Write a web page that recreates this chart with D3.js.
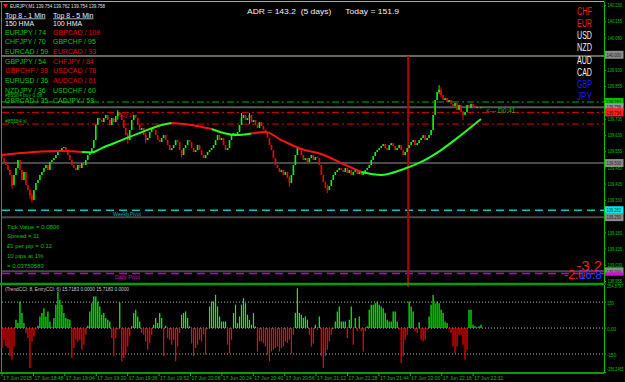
<!DOCTYPE html>
<html><head><meta charset="utf-8">
<script src="https://cdn.jsdelivr.net/npm/d3@7"></script>
<style>body{margin:0;background:#000}svg{display:block}text{font-family:"Liberation Sans",Arial,sans-serif}</style>
</head><body><svg id="c" width="625" height="382"></svg>
<script>
// ---------------- DATA ----------------
const symbolHeader = "EURJPY,M1  139.754 139.762 139.754 139.758";
const firstOpen = 139.530;
const closes = [
139.523,139.505,139.491,139.468,139.445,
139.398,
139.445,139.477,139.514,139.468,
139.422,139.459,139.398,139.375,139.352,
139.329,139.375,
139.408,139.422,139.445,139.459,139.477,139.491,139.468,139.505,139.514,139.523,139.537,139.551,
139.560,139.569,139.574,139.560,139.537,139.514,139.491,139.477,
139.468,139.491,139.477,139.500,139.491,
139.514,139.537,139.551,139.569,139.606,
139.676,139.708,139.699,
139.689,139.708,139.722,139.699,139.676,139.708,139.689,139.717,139.736,
139.722,139.699,139.662,139.629,139.606,139.653,139.699,139.722,
139.708,139.676,139.653,139.662,139.629,139.606,139.616,139.643,
139.662,139.653,139.629,139.606,139.597,139.616,139.629,139.606,
139.583,139.560,139.569,139.583,139.606,139.597,139.560,139.537,139.569,
139.583,139.606,139.597,139.569,139.551,139.560,139.583,
139.560,139.537,139.523,139.537,139.551,139.560,139.569,
139.583,139.606,139.629,139.606,139.616,139.583,139.560,139.569,139.606,139.629,
139.639,139.629,139.643,139.676,139.708,
139.722,139.699,139.708,139.722,139.689,
139.699,139.676,139.662,139.689,139.671,139.653,139.643,
139.616,139.583,139.560,139.523,139.491,139.477,139.459,
139.468,139.445,139.459,139.431,139.408,139.445,
139.491,139.537,139.569,139.560,
139.537,139.514,139.523,139.505,139.523,139.537,139.514,139.528,139.523,
139.491,139.445,139.412,139.385,139.375,139.394,
139.422,139.445,139.459,139.468,139.477,
139.468,139.459,139.477,139.454,139.468,139.445,139.459,139.468,139.449,139.459,139.445,139.459,139.468,
139.477,139.491,139.514,139.532,139.551,139.560,139.569,
139.579,139.588,139.569,139.560,139.583,139.592,139.579,139.560,139.569,139.583,
139.560,139.537,139.551,139.569,
139.583,139.597,139.606,139.583,139.592,139.606,139.616,139.629,139.606,139.616,139.629,139.653,
139.722,139.791,139.828,
139.837,139.814,139.791,139.800,139.782,139.791,139.773,
139.763,139.777,139.745,139.768,139.736,139.722,139.736,
139.768,139.754,139.773,139.763,139.754,139.759,139.754,139.758];

// notable wick extremes: bar index, high, low
const wickBars  = [5, 14, 15, 58, 63, 72, 90, 120, 124, 144, 163, 219, 220, 231];
const wickHighs = [139.420,139.380,139.360,139.745,139.640,139.640,139.560,139.731,139.731,139.440,139.400,139.860,139.850,139.740];
const wickLows  = [139.380,139.335,139.318,139.700,139.590,139.590,139.525,139.700,139.680,139.390,139.362,139.820,139.805,139.699];

const cci = [
-115,-67,-106,-115,-163,-183,-106,48,29,154,87,29,-29,-58,-231,-77,-48,-10,13,67,
87,115,67,96,38,5,58,135,211,163,135,87,58,52,48,-173,-115,-67,-77,-67,
-125,-96,-38,13,96,144,183,183,154,125,77,87,58,48,38,-58,-163,-58,-10,148,
-192,-173,-144,-106,-48,10,87,106,67,38,-29,-38,-77,-125,-87,-38,19,58,29,87,
58,-163,13,-58,-67,-96,-67,-192,-106,-29,77,87,96,58,10,-87,-163,-115,-96,-67,
-77,-38,-154,-5,125,154,154,192,125,67,38,38,38,-96,-144,-67,87,135,29,67,
135,173,144,77,48,19,87,10,-135,-77,-77,-87,-106,-154,-192,-135,-125,-115,-106,-135,
-115,-106,-77,-87,-67,-144,-38,87,231,87,77,58,67,48,-38,-106,-87,19,-10,67,
-163,-231,-163,-125,-77,-38,-5,38,96,125,38,38,38,-58,48,125,-96,58,-19,67,
-19,-135,-19,10,106,135,135,144,154,135,125,115,87,48,38,38,96,96,38,-10,
-202,-163,-67,-38,154,125,96,-19,-29,33,-67,-77,-67,-10,67,135,192,144,154,144,
106,87,38,29,-5,-29,-106,-144,-106,-38,-38,-96,-183,-125,106,106,19,10,4,10,19];

// moving average (HMA) read at key bars, with its colour state
const maIdx = [0,10,20,30,40,45,50,60,70,80,85,95,105,117,125,132,140,150,160,170,180,190,200,210,220,230,240];
const maVal = [139.537,139.546,139.553,139.556,139.551,139.549,139.569,139.606,139.643,139.676,139.685,139.676,139.657,139.629,139.636,139.643,139.606,139.565,139.542,139.500,139.459,139.445,139.468,139.505,139.560,139.629,139.703];
const maUp  = [0,0,0,0,0,1,1,1,1,1,1,0,0,1,1,0,0,0,0,0,0,1,1,1,1,1,1];

const priceTicks = [140.230,140.155,140.080,140.005,139.930,139.855,139.780,139.705,139.630,139.555,139.480,139.405,139.330,139.255,139.180,139.105,139.030,138.955];
const cciTicks = [254.8797,150,0,-150,-256.2455];
const cciTickLabels = ["254.8797","150","0.00","-150","-256.2455"];
const timeMinutes = [0,16,32,48,64,80,96,112,128,144,160,176,192,208,224,240];
const timeLabels = ["17 Jun 2015","17 Jun 18:48","17 Jun 19:04","17 Jun 19:20","17 Jun 19:36","17 Jun 19:52","17 Jun 20:08","17 Jun 20:24","17 Jun 20:40","17 Jun 20:56","17 Jun 21:12","17 Jun 21:28","17 Jun 21:44","17 Jun 22:00","17 Jun 22:16","17 Jun 22:32"];

const leftPairs = ["EURJPY","CHFJPY","EURCAD","GBPJPY","GBPCHF","EURUSD","NZDJPY","GBPCAD"];
const leftVals  = [74,70,59,54,38,36,36,35];
const leftUp    = [1,1,1,1,0,1,1,1];
const rightPairs = ["GBPCAD","GBPCHF","EURCAD","CHFJPY","USDCAD","AUDCAD","USDCHF","CADJPY"];
const rightVals  = [109,95,93,84,78,61,60,58];
const rightUp    = [0,1,0,0,0,0,1,1];
const currencies = ["CHF","EUR","USD","NZD","AUD","CAD","GBP","JPY"];
const currencyState = ["s","s","n","n","n","n","w","w"];
const infoLines = ["Tick Value = 0.0806","Spread = 11","£1 per pip = 0.12","10 pips at 1%","= 0.03750583"];

const adr = 143.2, adrDays = 5, today = 151.9;
const bidPrice = 139.758;
const weeklyPivot = 139.282, dailyPivot = 138.990;
const grayLevels = [139.994, 139.500, 139.250, 139.000];
const greenLevel = 139.782;
const redLevels = [139.734, 139.680];
const separatorIdx = 203.5;
const bigVal = "-3.2", smallValA = "-2.0", smallValB = "16.8";
const cciHeader = "(TrendCCI: 8, EntryCCI: 6) 15.7183 0.0000 15.7183 0.0000";

// ---------------- DRAW ----------------
const svg = d3.select("#c");
svg.append("rect").attr("width",625).attr("height",382).attr("fill","#000");

const L = 2, R = 604, mTop = 1.5, mBot = 283, iTop = 285, iBot = 373;
const x = d3.scaleLinear().domain([0, closes.length-1]).range([2, 481]);
const tx = d3.scaleLinear().domain([0, 244]).range([2, 481]);
const y = d3.scaleLinear().domain([138.946, 140.253]).range([mBot, 0]);
const yi = d3.scaleLinear().domain([-256.2455, 254.8797]).range([372.4, 284]);

const GREEN = "#00ff00", RED = "#ff0000", TXTG = "#00c000";

// horizontal levels
const hline = (p, color, w, dash) => svg.append("line").attr("x1",L).attr("x2",R)
  .attr("y1",y(p)).attr("y2",y(p)).attr("stroke",color).attr("stroke-width",w)
  .attr("stroke-dasharray",dash||null);
grayLevels.forEach((p,i)=>hline(p, i===0?"#6a6a5a":"#4a4a4a", 2));
hline(bidPrice, "#5a5a5a", 2);
hline(greenLevel, "#00b000", 1, "7,3,2,3");
redLevels.forEach(p=>hline(p, "#e00000", 1, "7,3,2,3"));
hline(weeklyPivot, "#00c8c8", 1.5, "8,5");
hline(dailyPivot, "#c000c0", 1.5, "8,5");

// separator
svg.append("line").attr("x1",x(separatorIdx)).attr("x2",x(separatorIdx))
  .attr("y1",y(139.994)).attr("y2",287).attr("stroke","#b00000").attr("stroke-width",2);

// candles
const opens = closes.map((c,i)=> i===0 ? firstOpen : closes[i-1]);
const up = (i)=> closes[i] >= opens[i];
svg.append("g").selectAll("line").data(wickBars).join("line")
  .attr("x1",i=>x(i)).attr("x2",i=>x(i))
  .attr("y1",(i,k)=>y(wickHighs[k])).attr("y2",(i,k)=>y(wickLows[k]))
  .attr("stroke",i=>up(i)?GREEN:RED).attr("stroke-width",1);
svg.append("g").selectAll("rect").data(closes).join("rect")
  .attr("x",(d,i)=>x(i)-0.8).attr("width",1.6)
  .attr("y",(d,i)=>y(Math.max(d,opens[i])))
  .attr("height",(d,i)=>Math.max(1, Math.abs(y(d)-y(opens[i]))))
  .attr("fill",(d,i)=> up(i) ? GREEN : RED);

// MA line, coloured runs
const maLine = d3.line().x(k=>x(maIdx[k])).y(k=>y(maVal[k])).curve(d3.curveMonotoneX);
let seg=[0];
for(let k=1;k<maIdx.length;k++){
  seg.push(k);
  const st = maUp[k];
  if(k===maIdx.length-1 || maUp[k+1]!==st){
    svg.append("path").attr("d",maLine(seg)).attr("fill","none")
      .attr("stroke", maUp[seg[seg.length-1]] ? "#22ff22" : "#ff1010").attr("stroke-width",2);
    seg=[k];
  }
}

// frame
svg.append("line").attr("x1",0).attr("x2",R).attr("y1",mTop).attr("y2",mTop).attr("stroke","#30ff30").attr("stroke-width",1);
svg.append("line").attr("x1",1.5).attr("x2",1.5).attr("y1",mTop).attr("y2",iBot).attr("stroke","#00c000").attr("stroke-width",1);
svg.append("line").attr("x1",0).attr("x2",R).attr("y1",284).attr("y2",284).attr("stroke","#00a000").attr("stroke-width",2.5);
svg.append("line").attr("x1",0).attr("x2",R).attr("y1",iBot).attr("y2",iBot).attr("stroke","#00a000").attr("stroke-width",2);

// right price axis
const ax = svg.append("g").attr("transform",`translate(${R},0)`)
  .call(d3.axisRight(y).tickValues(priceTicks).tickFormat(d3.format(".3f")).tickSize(2).tickPadding(1.5));
ax.select(".domain").attr("stroke","#00c000").attr("d",`M0.5,${mTop}V${mBot}`);
ax.selectAll(".tick line").attr("stroke","#00c000");
ax.selectAll(".tick text").attr("fill",TXTG).attr("font-size",5.5).attr("font-family","Liberation Sans, Arial")
  .attr("textLength",14.5).attr("lengthAdjust","spacingAndGlyphs");

// level boxes on the axis
const box = (p, bg, fg) => {
  svg.append("rect").attr("x",R+1).attr("y",y(p)-4).attr("width",18.5).attr("height",8).attr("fill",bg);
  svg.append("text").attr("x",R+2.5).attr("y",y(p)+2.2).attr("fill",fg).attr("font-size",5.5)
    .attr("textLength",14.5).attr("lengthAdjust","spacingAndGlyphs").text(p.toFixed(3));
};
box(140.000, "#8a8a8a", "#202020");
box(greenLevel, "#00c000", "#003000");
box(bidPrice, "#9a9a9a", "#202020");
box(redLevels[0], "#ff2020", "#400000");
box(139.500, "#8a8a8a", "#202020");
box(weeklyPivot, "#00e8e8", "#004040");
box(139.250, "#8a8a8a", "#202020");
box(139.000, "#8a8a8a", "#202020");
svg.append("rect").attr("x",R+1).attr("y",y(dailyPivot)-1).attr("width",18.5).attr("height",3).attr("fill","#e000e0");

// indicator
[150,0,-150].forEach(v=>svg.append("line").attr("x1",L).attr("x2",R).attr("y1",yi(v)).attr("y2",yi(v))
  .attr("stroke","#b0b0b0").attr("stroke-width",1).attr("stroke-dasharray","1,2"));
svg.append("g").selectAll("line").data(cci).join("line")
  .attr("x1",(d,i)=>x(i)).attr("x2",(d,i)=>x(i))
  .attr("y1",yi(0)).attr("y2",d=>yi(d))
  .attr("stroke",d=>d>=0?GREEN:RED).attr("stroke-width",1.2);
svg.append("line").attr("x1",R+0.5).attr("x2",R+0.5).attr("y1",iTop).attr("y2",iBot).attr("stroke","#00c000");
svg.append("g").selectAll("text").data(cciTicks).join("text")
  .attr("x",R+3).attr("y",(d,i)=>yi(d)+(i===0?4:i===4?-1:2.5)).attr("fill",TXTG).attr("font-size",5.5)
  .attr("textLength",(d,i)=>Math.min(16.5, cciTickLabels[i].length*2.3)).attr("lengthAdjust","spacingAndGlyphs")
  .text((d,i)=>cciTickLabels[i]);
svg.selectAll(null).data(cciTicks).join("line").attr("x1",R).attr("x2",R+2)
  .attr("y1",d=>yi(d)).attr("y2",d=>yi(d)).attr("stroke","#00c000");
svg.append("text").attr("x",5).attr("y",291).attr("fill","#c8c8c8").attr("font-size",5.8)
  .attr("textLength",124).attr("lengthAdjust","spacingAndGlyphs").text(cciHeader);

// time axis
const tg = svg.append("g");
timeMinutes.forEach((m,i)=>{
  tg.append("line").attr("x1",tx(m)).attr("x2",tx(m)).attr("y1",iBot).attr("y2",iBot+3).attr("stroke","#00c000");
  tg.append("text").attr("x",tx(m)+1).attr("y",380).attr("fill",TXTG).attr("font-size",5.5)
    .attr("textLength",29).attr("lengthAdjust","spacingAndGlyphs").text(timeLabels[i]);
});

// header
svg.append("path").attr("d","M3,4 L8,4 L5.5,8 Z").attr("fill","#ff2020");
svg.append("text").attr("x",10).attr("y",8).attr("fill","#e0e0e0").attr("font-size",6)
  .attr("textLength",95).attr("lengthAdjust","spacingAndGlyphs").text(symbolHeader);
svg.append("text").attr("x",247).attr("y",14).attr("fill","#f0f0f0").attr("font-size",7)
  .attr("font-family","Liberation Mono, monospace").attr("xml:space","preserve")
  .attr("textLength",152).attr("lengthAdjust","spacingAndGlyphs")
  .text(`ADR = ${adr.toFixed(1)}  (${adrDays} days)      Today = ${today.toFixed(1)}`);

// top 8 panels
const hdr=(xx,t1,t2)=>{
  svg.append("text").attr("x",xx).attr("y",17.5).attr("fill","#f0f0f0").attr("font-size",7)
    .attr("text-decoration","underline").text(t1);
  svg.append("text").attr("x",xx).attr("y",25.5).attr("fill","#f0f0f0").attr("font-size",7).text(t2);
};
hdr(5,"Top 8 - 1 Min","150 HMA");
hdr(53,"Top 8 - 5 Min","100 HMA");
const rowY = d3.scaleLinear().domain([0,7]).range([34.5,102.5]);
leftPairs.forEach((p,i)=>svg.append("text").attr("x",5).attr("y",rowY(i)).attr("font-size",7)
  .attr("fill",leftUp[i]?"#00c800":"#e00000").text(`${p} / ${leftVals[i]}`));
rightPairs.forEach((p,i)=>svg.append("text").attr("x",53).attr("y",rowY(i)).attr("font-size",7)
  .attr("fill",rightUp[i]?"#00c800":"#e00000").text(`${p} / ${rightVals[i]}`));

// currency strength
const cy = d3.scaleLinear().domain([0,7]).range([15,100]);
const cCol = {s:"#ff1a1a", n:"#f0f0f0", w:"#1a1aff"};
currencies.forEach((c,i)=>svg.append("text").attr("x",577).attr("y",cy(i)).attr("font-size",10)
  .attr("textLength",15).attr("lengthAdjust","spacingAndGlyphs").attr("fill",cCol[currencyState[i]]).text(c));

// chart texts
svg.append("text").attr("x",5).attr("y",97).attr("fill","#00c000").attr("font-size",5).text("#85584 buy 0.08");
svg.append("text").attr("x",5).attr("y",123).attr("fill","#00c000").attr("font-size",5).text("#85584 sl");
svg.append("text").attr("x",119).attr("y",117).attr("fill","#e00000").attr("font-size",5).text("Buy 1");
svg.append("text").attr("x",486).attr("y",113).attr("fill","#00c000").attr("font-size",6.5).text("<--- D0:41");
svg.append("text").attr("x",113).attr("y",216).attr("fill","#00b0b0").attr("font-size",6)
  .attr("textLength",28).attr("lengthAdjust","spacingAndGlyphs").text("WeeklyPivot");
svg.append("text").attr("x",115).attr("y",279).attr("fill","#d000d0").attr("font-size",6)
  .attr("textLength",25).attr("lengthAdjust","spacingAndGlyphs").text("Daily Pivot");
const iy = d3.scaleLinear().domain([0,4]).range([228.5,268]);
infoLines.forEach((t,i)=>svg.append("text").attr("x",7).attr("y",iy(i)).attr("fill","#00c000").attr("font-size",6).text(t));

svg.append("text").attr("x",602).attr("y",271).attr("text-anchor","end").attr("fill","#ff1a1a").attr("font-size",15).text(bigVal);
svg.append("text").attr("x",585).attr("y",279).attr("text-anchor","end").attr("fill","#ff1a1a").attr("font-size",12).text(smallValA);
svg.append("text").attr("x",602).attr("y",279).attr("text-anchor","end").attr("fill","#2040ff").attr("font-size",12).text(smallValB);
</script></body></html>
